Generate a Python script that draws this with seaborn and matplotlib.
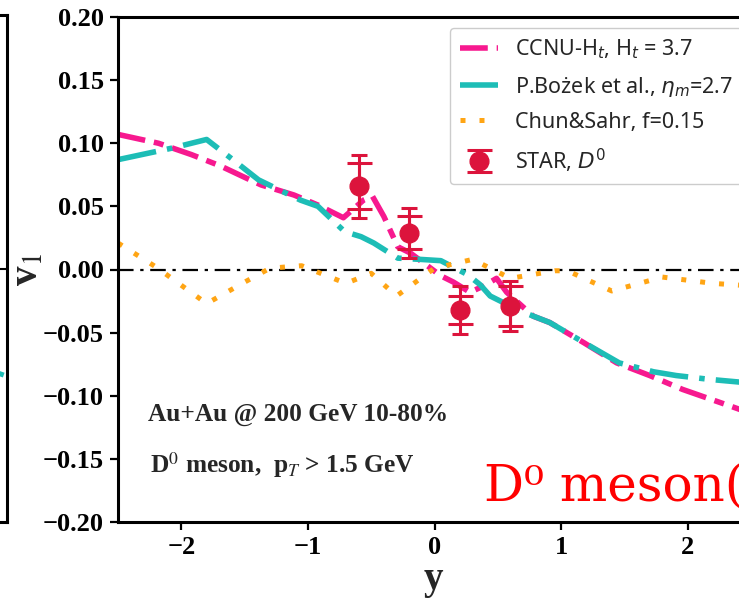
import matplotlib
matplotlib.use("Agg")
import matplotlib.pyplot as plt
import seaborn as sns
import numpy as np

# ---------------- data ----------------
ccnu_x = [-2.5, -2.18, -1.92, -1.69, -1.5, -1.37, -1.11, -0.92, -0.72, -0.56, -0.49, -0.40,
          -0.29, -0.19, 0.05, 0.15, 0.28, 0.39, 0.49, 0.57, 0.78, 0.91, 1.18, 1.44, 1.70,
          1.96, 2.36, 2.5]
ccnu_y = [0.107, 0.100, 0.091, 0.082, 0.073, 0.067, 0.059, 0.051, 0.041, 0.055, 0.058, 0.042,
          0.018, 0.013, -0.005, -0.010, -0.018, -0.013, -0.007, -0.018, -0.037, -0.042, -0.058,
          -0.074, -0.084, -0.095, -0.109, -0.114]

bozek_x = [-2.5, -2.08, -1.80, -1.58, -1.39, -1.06, -0.92, -0.71, -0.58, -0.48, -0.29, -0.11,
           0.05, 0.26, 0.36, 0.44, 0.68, 0.91, 1.20, 1.46, 1.73, 1.91, 2.17, 2.5]
bozek_y = [0.087, 0.096, 0.103, 0.086, 0.071, 0.055, 0.050, 0.030, 0.026, 0.021, 0.009, 0.008,
           0.007, -0.004, -0.012, -0.021, -0.033, -0.042, -0.059, -0.074, -0.081, -0.084,
           -0.087, -0.090]

chun_x = [-2.5, -2.2, -1.8, -1.5, -1.3, -1.05, -0.7, -0.5, -0.3, 0.0, 0.3, 0.6, 0.95, 1.05,
          1.4, 1.8, 2.2, 2.5]
chun_y = [0.021, 0.002, -0.027, -0.010, 0.001, 0.003, -0.011, -0.003, -0.021, 0.001, 0.008,
          -0.007, -0.001, -0.001, -0.017, -0.006, -0.011, -0.013]

star_x = [-0.6, -0.2, 0.2, 0.6]
star_y = [0.066, 0.029, -0.032, -0.029]
star_stat = [0.025, 0.020, 0.019, 0.020]
star_sys = [0.018, 0.013, 0.011, 0.016]

# fragment of neighbouring panel (only its right edge is visible)
left_x = [2.3, 2.5]
left_y = [-0.080, -0.085]

xticks = [-2, -1, 0, 1, 2]
yticks = [-0.20, -0.15, -0.10, -0.05, 0.00, 0.05, 0.10, 0.15, 0.20]

# ---------------- style ----------------
sns.set_style("ticks")
plt.rcParams['font.family'] = ['Liberation Serif', 'DejaVu Serif']
plt.rcParams['axes.unicode_minus'] = True

PINK = '#F7198F'
CYAN = '#1DBDB6'
ORANGE = '#FFA514'
RED = '#DC143C'

W, H = 739, 598
fig = plt.figure(figsize=(W / 100, H / 100), dpi=100)

# neighbouring panel fragment
ax0 = fig.add_axes([-0.6, (H - 522) / H, 0.6 + 7 / W, 507 / H])
ax0.set_xlim(-2.5, 2.5)
ax0.set_ylim(-0.2, 0.2)
ax0.axhline(0, color='black', ls='-.', lw=1.5)
sns.lineplot(x=left_x, y=left_y, ax=ax0, color=CYAN, lw=3.6,
             linestyle=(0, (1, 2)), legend=False)
for s in ax0.spines.values():
    s.set_linewidth(2.2)
    s.set_color('black')
ax0.set_xticks([])
ax0.set_yticks([])

# main panel
ax = fig.add_axes([118 / W, (H - 522) / H, 633 / W, 505 / H])
ax.set_xlim(-2.5, 2.5)
ax.set_ylim(-0.2, 0.2)

ax.axhline(0, color='black', ls=(0, (7, 3, 1.5, 3)), lw=1.6, zorder=1)

sns.lineplot(x=ccnu_x, y=ccnu_y, ax=ax, color=PINK, lw=4.0, sort=False,
             linestyle=(0, (5, 1.6, 1.8, 1.6)), label='CCNU-H$_t$, H$_t$ = 3.7')
sns.lineplot(x=bozek_x, y=bozek_y, ax=ax, color=CYAN, lw=4.0, sort=False,
             linestyle=(0, (7, 2, 1, 2)), label='P.Bożek et al., $\\eta_m$=2.7')
sns.lineplot(x=chun_x, y=chun_y, ax=ax, color=ORANGE, lw=3.6, sort=False,
             linestyle=(0, (1, 2.8)), label='Chun&Sahr, f=0.15')

# STAR data: stat (narrow caps) and sys (wide caps)
ax.errorbar(star_x, star_y, yerr=star_stat, fmt='none', ecolor=RED, elinewidth=2.2,
            capsize=6, capthick=2.2, zorder=5)
ax.errorbar(star_x, star_y, yerr=star_sys, fmt='o', color=RED, ms=13.5, elinewidth=2.2,
            capsize=9, capthick=2.2, zorder=6, label='STAR, $D^0$')

ax.set_xticks(xticks)
ax.set_yticks(yticks)
ax.set_xticklabels([f'{t:d}'.replace('-', '\u2212') for t in xticks],
                   fontsize=19, fontweight='bold')
ax.set_yticklabels([f'{t:.2f}'.replace('-', '\u2212') for t in yticks],
                   fontsize=19, fontweight='bold')
ax.tick_params(direction='out', length=6, width=1.6, colors='black', pad=4)
for s in ax.spines.values():
    s.set_linewidth(2.2)
    s.set_color('black')

ax.set_xlabel('y', fontsize=28, fontweight='bold')
ax.xaxis.set_label_coords(0.498, -0.078)
ax.set_ylabel('v$_1$', fontsize=28, fontweight='bold', math_fontfamily='stix')
ax.yaxis.set_label_coords(-0.112, 0.5)

leg = ax.legend(loc='upper left', bbox_to_anchor=((450 - 118) / 633, (522 - 28) / 505),
                borderaxespad=0, frameon=True, fancybox=True, framealpha=1,
                prop={'family': 'Noto Sans', 'size': 15.5},
                handlelength=1.8, handletextpad=0.75, labelspacing=0.62,
                borderpad=0.45)
leg.get_frame().set_edgecolor('#cccccc')
leg.get_frame().set_linewidth(1.0)
for t in leg.get_texts():
    t.set_math_fontfamily('dejavusans')

ax.text((148 - 118) / 633, (522 - 415) / 505, 'Au+Au @ 200 GeV 10-80%',
        fontsize=18.3, fontweight='bold', va='center', ha='left', transform=ax.transAxes)
ax.text((150 - 118) / 633, (522 - 465) / 505, 'D$^0$ meson,  p$_T$ > 1.5 GeV',
        fontsize=18.3, fontweight='bold', va='center', ha='left', transform=ax.transAxes,
        math_fontfamily='stix')

fig.text(484 / W, (H - 501) / H, 'D\u2070 meson(charm quark)', color='#FF0000',
         fontsize=36, family=['DejaVu Serif'], ha='left', va='baseline')

fig.savefig('out.png', dpi=100)
